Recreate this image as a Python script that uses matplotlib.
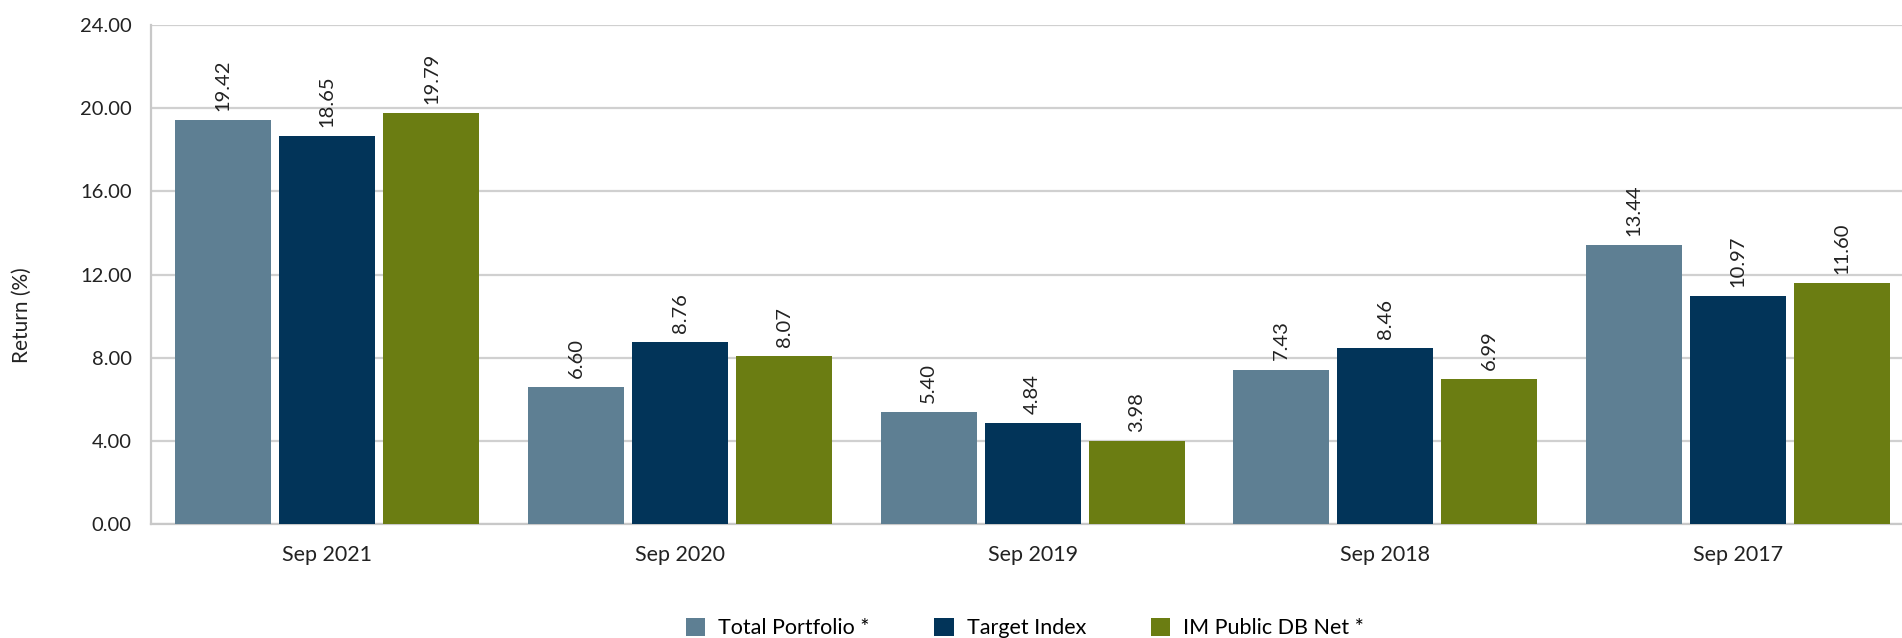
import numpy as np
import matplotlib
matplotlib.use('Agg')
from matplotlib import pyplot as plt
from matplotlib.patches import Patch

plt.rcParams['font.family'] = ['Lato', 'DejaVu Sans']

periods = ['Sep 2021', 'Sep 2020', 'Sep 2019', 'Sep 2018', 'Sep 2017']
total_portfolio = [19.42, 6.60, 5.40, 7.43, 13.44]
target_index = [18.65, 8.76, 4.84, 8.46, 10.97]
im_public_db = [19.79, 8.07, 3.98, 6.99, 11.60]
series_names = ['Total Portfolio *', 'Target Index', 'IM Public DB Net *']
colors = ['#5E7F93', '#023459', '#6B7D12']

W, H = 1902, 638
fig = plt.figure(figsize=(W / 100, H / 100), dpi=100)
left, right, top, bottom = 151, 1902, 25, 524
ax = fig.add_axes([left / W, 1 - bottom / H, (right - left) / W, (bottom - top) / H])

x = np.arange(len(periods))
width = 0.272
step = 0.295
for i, (vals, c) in enumerate(zip([total_portfolio, target_index, im_public_db], colors)):
    pos = x + (i - 1) * step
    ax.bar(pos, vals, width=width, color=c, zorder=3)
    for p, v in zip(pos, vals):
        ax.annotate(f'{v:.2f}', (p, v), xytext=(0, 6.5), textcoords='offset points',
                    rotation=90, ha='center', va='bottom', fontsize=14.5, color='#222222')

ax.set_xlim(-0.5, 4.465)
ax.set_ylim(0, 24)
ax.set_yticks(np.arange(0, 25, 4))
ax.set_yticklabels([f'{t:.2f}' for t in np.arange(0, 25, 4)])
ax.set_xticks(x)
ax.set_xticklabels(periods)
ax.tick_params(axis='both', length=0, labelsize=14.5, colors='#222222')
ax.tick_params(axis='x', pad=15, labelsize=15.5)
ax.tick_params(axis='y', pad=14)
ax.grid(axis='y', color='#d0d0d0', linewidth=1.6, zorder=0)
for s in ['top', 'right']:
    ax.spines[s].set_visible(False)
for s in ['left', 'bottom']:
    ax.spines[s].set_color('#c8c8c8')
    ax.spines[s].set_linewidth(1.6)

fig.text(22 / W, 1 - 315 / H, 'Return (%)', rotation=90, ha='center', va='center',
         fontsize=15, color='#222222')

handles = [Patch(facecolor=c) for c in colors]
fig.legend(handles, series_names, loc='center', bbox_to_anchor=(1025 / W, 1 - 628 / H),
           ncol=3, frameon=False, fontsize=15.5, handlelength=0.9, handleheight=0.9,
           columnspacing=3.0, handletextpad=0.6)

fig.savefig('out.png', dpi=100)
